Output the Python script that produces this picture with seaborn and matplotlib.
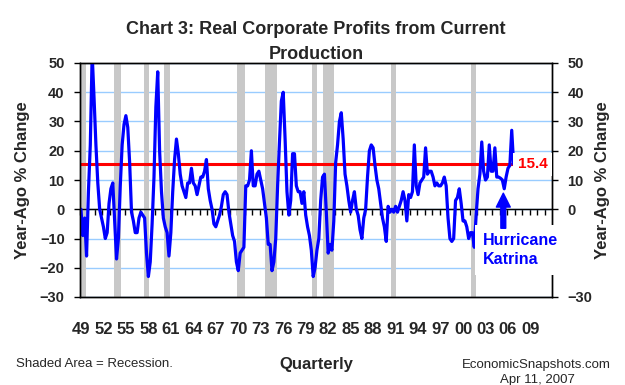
import numpy as np
import pandas as pd
import matplotlib
matplotlib.use('Agg')
import matplotlib.pyplot as plt
import seaborn as sns

# Real corporate profits from current production, year-ago % change, 1949Q1 - 2006Q4
start_year = 1949
profits = [
    0, -9, -3, -16,       # 1949
    6, 22, 53, 38,        # 1950
    22, 9, 0, -3,         # 1951
    -6, -10, -8, 2,       # 1952
    7, 9, -4, -17,        # 1953
    -10, 8, 22, 29,       # 1954
    32, 28, 16, -1,       # 1955
    -4, -8, -8, -3,       # 1956
    -1, -2, -3, -15,      # 1957
    -23, -18, -5, 11,     # 1958
    35, 47, 20, 6,        # 1959
    -3, -6, -8, -16,      # 1960
    -8, 6, 17, 24,        # 1961
    19, 12, 8, 6,         # 1962
    4, 9, 9, 14,          # 1963
    9, 8, 5, 8,           # 1964
    11, 11, 13, 17,       # 1965
    7, 3, 0, -5,          # 1966
    -6, -4, -2, 1,        # 1967
    5, 6, 5, -1,          # 1968
    -5, -9, -11, -18,     # 1969
    -21, -15, -14, -13,   # 1970
    8, 8, 10, 20,         # 1971
    8, 8, 12, 13,         # 1972
    10, 7, 2, -3,         # 1973
    -12, -12, -21, -18,   # 1974
    -10, 8, 23, 37,       # 1975
    40, 24, 6, -2,        # 1976
    3, 19, 19, 8,         # 1977
    6, 6, 2, 6,           # 1978
    -2, -6, -9, -14,      # 1979
    -23, -20, -14, -10,   # 1980
    3, 11, 12, -1,        # 1981
    -15, -12, -14, -4,    # 1982
    16, 22, 30, 33,       # 1983
    24, 12, 8, 3,         # 1984
    -1, 3, 6, 0,          # 1985
    -2, -7, -10, -3,      # 1986
    0, 11, 20, 22,        # 1987
    21, 15, 10, 7,        # 1988
    2, -3, -6, -11,       # 1989
    1, -1, 0, -1,         # 1990
    1, -1, 1, 3,          # 1991
    6, 3, -4, 5,          # 1992
    4, 6, 22, 8,          # 1993
    5, 9, 10, 11,         # 1994
    21, 12, 13, 13,       # 1995
    11, 8, 9, 8,          # 1996
    8, 9, 11, 8,          # 1997
    -3, -10, -11, -10,    # 1998
    3, 4, 7, 2,           # 1999
    -4, -4, -6, -10,      # 2000
    -8, -8, -13, -2,      # 2001
    7, 12, 23, 13,        # 2002
    10, 11, 22, 13,       # 2003
    13, 21, 11, 11,       # 2004
    10.6, 10, 7, 11,      # 2005
    14, 15, 27, 15.4,     # 2006
]
latest = profits[-1]

# recession shading (NBER), in fractional years
rec_start = [1948.75, 1953.5, 1957.5, 1960.25, 1970.0, 1973.75, 1980.0, 1981.5, 1990.5, 2001.25]
rec_end = [1949.75, 1954.5, 1958.25, 1961.0, 1971.0, 1975.25, 1980.625, 1982.875, 1991.125, 2001.875]

tick_years = list(range(1949, 2010, 3))
tick_labels = [f"{y % 100:02d}" for y in tick_years]
left_ticks = [-30, -20, -10, 0, 10, 20, 30, 40, 50]
right_ticks = [-30, 0, 10, 20, 30, 40, 50]
katrina_q = 2005.5

df = pd.DataFrame({
    'date': start_year + np.arange(len(profits)) / 4 + 0.125,
    'pct': profits,
})
df['latest'] = latest

sns.set_style('white')
plt.rcParams['font.family'] = ['Liberation Sans', 'DejaVu Sans']

W, H = 625, 385
fig = plt.figure(figsize=(W / 100, H / 100), dpi=100)
ax = fig.add_axes([80 / W, 1 - 297 / H, 472 / W, 234 / H])

ax.set_xlim(1949, 2012)
ax.set_ylim(-30, 50)

for s, e in zip(rec_start, rec_end):
    ax.axvspan(s, e, color='#C8C8C8', lw=0, zorder=1)

ax.set_yticks(left_ticks)
ax.yaxis.grid(True, color='#99CCFF', lw=1)
ax.set_axisbelow(True)
ax.axhline(0, color='black', lw=1, zorder=1.5)

sns.lineplot(data=df, x='date', y='pct', ax=ax, color='#0000FF', lw=2.3, zorder=3)
sns.lineplot(data=df, x='date', y='latest', ax=ax, color='#FF0000', lw=2.2, zorder=2.5)

# year tick marks on the zero line
zero_ax = ax.secondary_xaxis(30 / 80)
zero_ax.set_xticks(range(1949, 2012))
zero_ax.tick_params(direction='out', length=4, width=1, color='black', labelbottom=False)
zero_ax.spines['bottom'].set_color('black')

ax.set_xticks([y + 0.125 for y in tick_years])
ax.set_xticklabels(tick_labels, fontsize=12, fontweight='bold')
ax.tick_params(axis='x', length=0, pad=18)
ax.tick_params(axis='y', direction='out', length=4, width=1, color='black', pad=7,
               labelsize=10.5)
for t in ax.get_yticklabels():
    t.set_fontweight('bold')
ax.set_xlabel('')
ax.set_ylabel('')
for sp in ax.spines.values():
    sp.set_color('black')
    sp.set_linewidth(1)

ax2 = ax.twinx()
ax2.set_ylim(-30, 50)
ax2.set_yticks(right_ticks)
ax2.tick_params(axis='y', direction='out', length=4, width=1, color='black', pad=7,
                labelsize=10.5)
for t in ax2.get_yticklabels():
    t.set_fontweight('bold')
for sp in ax2.spines.values():
    sp.set_color('black')
    sp.set_linewidth(1)

ax2.text(2007.45, latest, f"{latest:.1f}", color='#FF0000', fontsize=11, fontweight='bold',
         ha='left', va='center', zorder=6, clip_on=False,
         bbox=dict(boxstyle='square,pad=0.3', fc='white', ec='none'))
ax2.text(2002.8, -14, 'Hurricane\nKatrina', color='#0000FF', fontsize=11.5,
         fontweight='bold', ha='left', va='center', linespacing=1.3, zorder=6,
         clip_on=False, bbox=dict(boxstyle='square,pad=0.5', fc='white', ec='none'))
ax2.annotate('', xy=(katrina_q, 5.5), xytext=(katrina_q, -6.5), zorder=7,
             arrowprops=dict(facecolor='#0000FF', edgecolor='#0000FF', width=3.5,
                             headwidth=10, headlength=10, shrink=0))

fig.text(316 / W, 1 - 42 / H, 'Chart 3: Real Corporate Profits from Current\nProduction',
         ha='center', va='center', fontsize=13, fontweight='bold', linespacing=1.55)
fig.text(23 / W, 1 - 180 / H, 'Year-Ago % Change', rotation=90, ha='center', va='center',
         fontsize=12, fontweight='bold')
fig.text(603 / W, 1 - 180 / H, 'Year-Ago % Change', rotation=90, ha='center', va='center',
         fontsize=12, fontweight='bold')
fig.text(316 / W, 1 - 364 / H, 'Quarterly', ha='center', va='center', fontsize=12,
         fontweight='bold')
fig.text(16 / W, 1 - 364 / H, 'Shaded Area = Recession.', ha='left', va='center',
         fontsize=9.5)
fig.text(536 / W, 1 - 365 / H, 'EconomicSnapshots.com', ha='center', va='center',
         fontsize=9.5)
fig.text(537 / W, 1 - 380 / H, 'Apr 11, 2007', ha='center', va='center', fontsize=9.5)

fig.savefig('out.png', dpi=100)
